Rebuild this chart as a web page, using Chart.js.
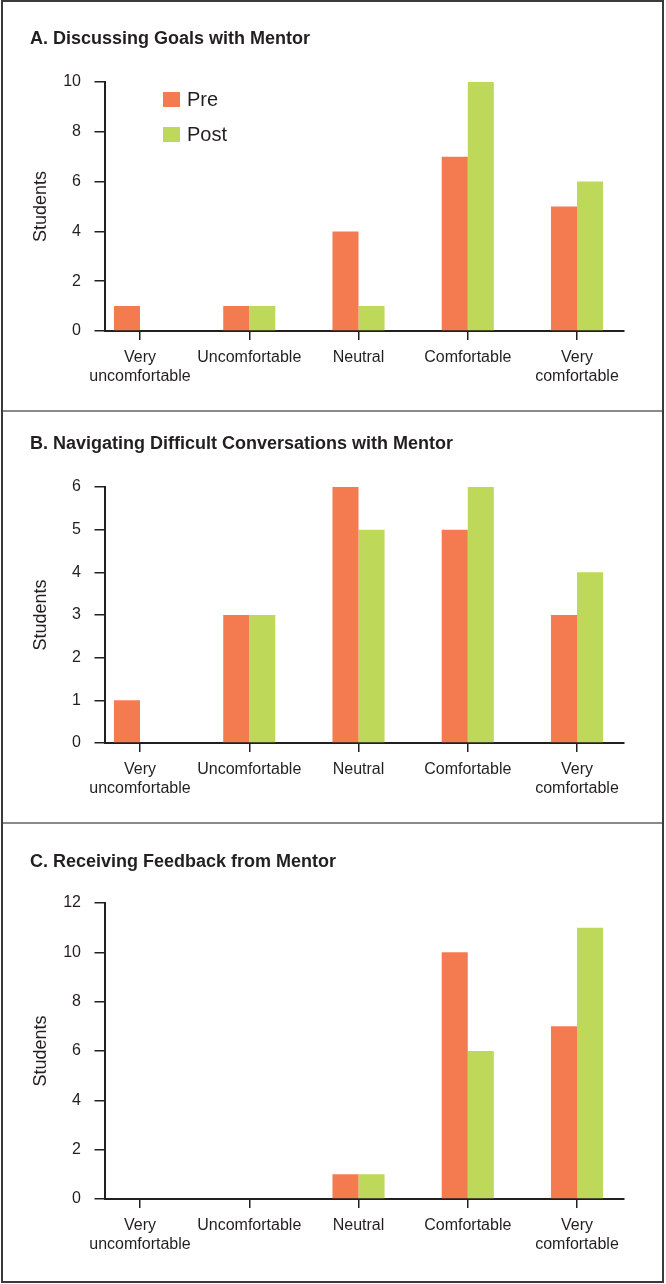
<!DOCTYPE html>
<html>
<head>
<meta charset="utf-8">
<title>Comfort with mentor - pre/post</title>
<script src="https://cdn.jsdelivr.net/npm/chart.js@4.4.0/dist/chart.umd.min.js"></script>
<style>
    body { margin: 0; background: #fff; }
    #page { position: relative; width: 666px; height: 1284px; }
    .frame { position: absolute; left: 1px; top: 0; width: 659px; height: 1279px; border: 2px solid #3a3a3a; }
    .divider { position: absolute; left: 3px; width: 659px; height: 2px; background: #8a8a8a; }
    canvas { position: absolute; left: 0; }
</style>
</head>
<body>
<div id="page">
    <div class="frame"></div>
    <div class="divider" style="top: 410px;"></div>
    <div class="divider" style="top: 822px;"></div>
    <canvas id="chartA" width="666" height="411" style="top: 0px;"></canvas>
    <canvas id="chartB" width="666" height="412" style="top: 411px;"></canvas>
    <canvas id="chartC" width="666" height="461" style="top: 823px;"></canvas>
</div>
<script>
// Data
const categories = [['Very', 'uncomfortable'], 'Uncomfortable', 'Neutral', 'Comfortable', ['Very', 'comfortable']];
const seriesNames = ['Pre', 'Post'];

const goalsPre = [1, 1, 4, 7, 5];
const goalsPost = [0, 1, 1, 10, 6];
const goalsTicks = [0, 2, 4, 6, 8, 10];

const difficultPre = [1, 3, 6, 5, 3];
const difficultPost = [0, 3, 5, 6, 4];
const difficultTicks = [0, 1, 2, 3, 4, 5, 6];

const feedbackPre = [0, 0, 1, 10, 7];
const feedbackPost = [0, 0, 1, 6, 11];
const feedbackTicks = [0, 2, 4, 6, 8, 10, 12];

const preColor = '#f47b50';
const postColor = '#bed85a';
const ink = '#231f20';
const fontFamily = '"Liberation Sans", Arial, sans-serif';

// Legend drawn inside the plot area (top left)
const legendBox = {
    id: 'legendBox',
    afterDraw(chart, args, opts) {
        if (!opts.show) return;
        const ctx = chart.ctx;
        const area = chart.chartArea;
        ctx.save();
        ctx.font = '20px ' + fontFamily;
        ctx.textBaseline = 'middle';
        chart.data.datasets.forEach((ds, i) => {
            const y = area.top + 10 + i * 35;
            ctx.fillStyle = ds.backgroundColor;
            ctx.fillRect(area.left + 58.5, y, 17, 15);
            ctx.fillStyle = ink;
            ctx.fillText(ds.label, area.left + 82.5, y + 8);
        });
        ctx.restore();
    }
};

function makeChart(canvasId, titleText, pre, post, yTicks, panel) {
    const ctx = document.getElementById(canvasId).getContext('2d');
    return new Chart(ctx, {
        type: 'bar',
        data: {
            datasets: [
                { label: seriesNames[0], data: pre.map((v, i) => ({ x: i, y: v })), backgroundColor: preColor },
                { label: seriesNames[1], data: post.map((v, i) => ({ x: i, y: v })), backgroundColor: postColor }
            ]
        },
        options: {
            responsive: false,
            animation: false,
            events: [],
            categoryPercentage: 0.477,
            barPercentage: 1,
            layout: { padding: { left: 30, right: 42, top: 0, bottom: 0 } },
            plugins: {
                legend: { display: false },
                tooltip: { enabled: false },
                title: {
                    display: true,
                    text: titleText,
                    align: 'start',
                    color: ink,
                    font: { family: fontFamily, size: 18, weight: 'bold' },
                    padding: { top: panel.titleTop, bottom: panel.titleBottom }
                },
                legendBox: { show: panel.legend }
            },
            scales: {
                x: {
                    type: 'linear',
                    offset: false,
                    min: -0.325,
                    max: 4.43,
                    afterBuildTicks: (scale) => { scale.ticks = categories.map((c, i) => ({ value: i })); },
                    afterFit: (scale) => { scale.height = panel.xHeight; },
                    ticks: {
                        callback: (value) => categories[value],
                        autoSkip: false,
                        maxRotation: 0,
                        padding: 8,
                        color: ink,
                        font: { family: fontFamily, size: 16 }
                    },
                    grid: { offset: false, drawOnChartArea: false, tickLength: 9, color: ink, lineWidth: 1.5 },
                    border: { color: ink, width: 2 }
                },
                y: {
                    min: yTicks[0],
                    max: yTicks[yTicks.length - 1],
                    afterBuildTicks: (scale) => { scale.ticks = yTicks.map(v => ({ value: v })); },
                    afterFit: (scale) => { scale.width = 74.5; },
                    title: {
                        display: true,
                        text: 'Students',
                        color: ink,
                        padding: 0,
                        font: { family: fontFamily, size: 18 }
                    },
                    ticks: {
                        padding: 13.5,
                        color: ink,
                        font: { family: fontFamily, size: 16 }
                    },
                    grid: { drawOnChartArea: false, tickLength: 10, color: ink, lineWidth: 1.5 },
                    border: { color: ink, width: 2 }
                }
            }
        },
        plugins: [legendBox]
    });
}

makeChart('chartA', 'A. Discussing Goals with Mentor', goalsPre, goalsPost, goalsTicks,
    { titleTop: 28.7, titleBottom: 31.7, xHeight: 80, legend: true });
makeChart('chartB', 'B. Navigating Difficult Conversations with Mentor', difficultPre, difficultPost, difficultTicks,
    { titleTop: 22.7, titleBottom: 31.7, xHeight: 80, legend: false });
makeChart('chartC', 'C. Receiving Feedback from Mentor', feedbackPre, feedbackPost, feedbackTicks,
    { titleTop: 28.7, titleBottom: 29.7, xHeight: 85, legend: false });
</script>
</body>
</html>
